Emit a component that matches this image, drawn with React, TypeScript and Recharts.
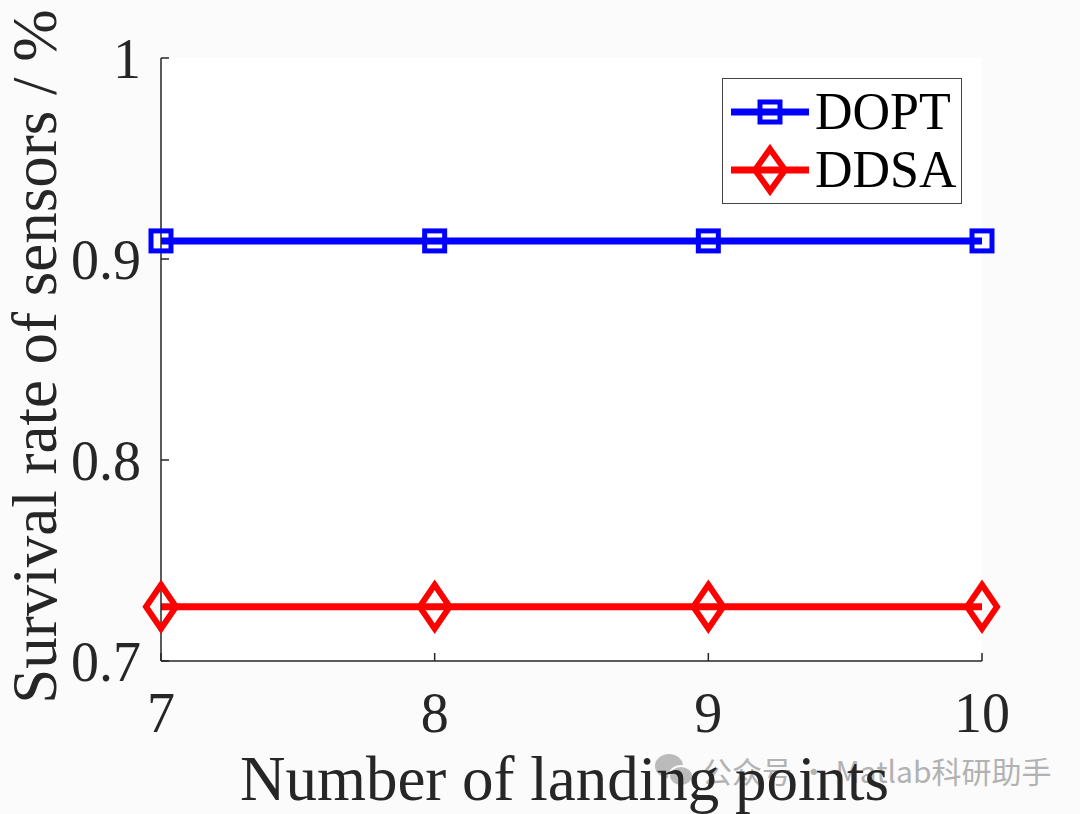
import { LineChart, Line, XAxis, YAxis, CartesianGrid } from 'recharts';

const landingPoints = [7, 8, 9, 10];
const doptRate = [0.909, 0.909, 0.909, 0.909];
const ddsaRate = [0.727, 0.727, 0.727, 0.727];
const xTicks = [7, 8, 9, 10];
const yTicks = [0.7, 0.8, 0.9, 1];

const data = landingPoints.map((x, i) => ({ x, dopt: doptRate[i], ddsa: ddsaRate[i] }));

const serif = '"Liberation Serif", "Times New Roman", serif';
const axisColor = '#262626';

function SquareDot(props: any) {
  const { cx, cy } = props;
  if (cx == null || cy == null) return null;
  return <rect x={cx - 10} y={cy - 10} width={20} height={20} fill="none" stroke="#0000ff" strokeWidth={5} />;
}

function DiamondDot(props: any) {
  const { cx, cy } = props;
  if (cx == null || cy == null) return null;
  return (
    <path
      d={`M${cx},${cy - 22} L${cx + 15},${cy} L${cx},${cy + 22} L${cx - 15},${cy} Z`}
      fill="none"
      stroke="#ff0000"
      strokeWidth={6}
    />
  );
}

function YTick(props: any) {
  const { x, y, payload } = props;
  return (
    <g>
      <line x1={x} y1={y} x2={x + 8} y2={y} stroke={axisColor} strokeWidth={1.5} />
      <text x={x - 20} y={y} dy="0.35em" textAnchor="end" fill={axisColor} fontFamily={serif} fontSize={56}>
        {payload.value === 1 ? '1' : payload.value.toFixed(1)}
      </text>
    </g>
  );
}

function XTick(props: any) {
  const { x, y, payload } = props;
  return (
    <g>
      <line x1={x} y1={y} x2={x} y2={y - 8} stroke={axisColor} strokeWidth={1.5} />
      <text x={x} y={y + 71} textAnchor="middle" fill={axisColor} fontFamily={serif} fontSize={56}>
        {payload.value}
      </text>
    </g>
  );
}

function LegendBox() {
  const rows = [
    { name: 'DOPT', color: '#0000ff', kind: 'square' },
    { name: 'DDSA', color: '#ff0000', kind: 'diamond' },
  ];
  return (
    <div
      style={{
        position: 'absolute',
        left: 722,
        top: 78,
        width: 240,
        height: 126,
        border: '1.5px solid #444',
        background: '#fff',
        boxSizing: 'border-box',
        paddingTop: 4,
      }}
    >
      {rows.map((r) => (
        <div key={r.name} style={{ display: 'flex', alignItems: 'center', height: 58 }}>
          <svg width={92} height={58}>
            <line x1={8} y1={29} x2={86} y2={29} stroke={r.color} strokeWidth={7} />
            {r.kind === 'square' ? (
              <rect x={37} y={19} width={20} height={20} fill="none" stroke={r.color} strokeWidth={5} />
            ) : (
              <path d="M47,8 L62,29 L47,50 L32,29 Z" fill="none" stroke={r.color} strokeWidth={6} />
            )}
          </svg>
          <span style={{ fontFamily: serif, fontSize: 52, color: '#000', lineHeight: 1 }}>{r.name}</span>
        </div>
      ))}
    </div>
  );
}

export default function App() {
  return (
    <div style={{ position: 'absolute', left: 0, top: 0, width: 1080, height: 814, background: '#fbfbfb' }}>
      <div
        style={{
          position: 'absolute',
          left: 652,
          top: 748,
          display: 'flex',
          alignItems: 'center',
          color: '#a6a6a6',
          fontFamily: '"Noto Sans CJK SC", "Noto Sans", sans-serif',
          fontSize: 30,
          opacity: 0.85,
        }}
      >
        <svg width={44} height={40} style={{ marginRight: 6 }}>
          <ellipse cx={17} cy={16} rx={14} ry={12} fill="#b0b0b0" />
          <ellipse cx={29} cy={26} rx={12} ry={10} fill="#b0b0b0" stroke="#fbfbfb" strokeWidth={2} />
        </svg>
        <span>公众号 · Matlab科研助手</span>
      </div>
      <LineChart width={1080} height={814} data={data} margin={{ top: 58, right: 98, left: 0, bottom: 0 }}>
        <CartesianGrid horizontal={false} vertical={false} fill="#ffffff" />
        <XAxis
          dataKey="x"
          type="number"
          domain={[7, 10]}
          ticks={xTicks}
          height={153}
          tickSize={0}
          tickMargin={0}
          tickLine={false}
          axisLine={{ stroke: axisColor, strokeWidth: 1.5 }}
          tick={<XTick />}
          label={{
            content: (p: any) => (
              <text
                x={p.viewBox.x + p.viewBox.width / 2 - 7}
                y={p.viewBox.y + 139}
                textAnchor="middle"
                fill={axisColor}
                fontFamily={serif}
                fontSize={63}
              >
                Number of landing points
              </text>
            ),
          }}
        />
        <YAxis
          type="number"
          domain={[0.7, 1]}
          ticks={yTicks}
          width={161}
          tickSize={0}
          tickMargin={0}
          tickLine={false}
          axisLine={{ stroke: axisColor, strokeWidth: 1.5 }}
          tick={<YTick />}
          label={{
            content: (p: any) => {
              const cx = p.viewBox.x + 35;
              const cy = p.viewBox.y + p.viewBox.height / 2 - 3;
              return (
                <text
                  x={cx}
                  y={cy}
                  transform={`rotate(-90, ${cx}, ${cy})`}
                  textAnchor="middle"
                  dominantBaseline="central"
                  fill={axisColor}
                  fontFamily={serif}
                  fontSize={63}
                >
                  Survival rate of sensors / %
                </text>
              );
            },
          }}
        />
        <Line
          dataKey="dopt"
          name="DOPT"
          stroke="#0000ff"
          strokeWidth={7}
          dot={<SquareDot />}
          activeDot={false}
          isAnimationActive={false}
        />
        <Line
          dataKey="ddsa"
          name="DDSA"
          stroke="#ff0000"
          strokeWidth={7}
          dot={<DiamondDot />}
          activeDot={false}
          isAnimationActive={false}
        />
      </LineChart>
      <LegendBox />
    </div>
  );
}
